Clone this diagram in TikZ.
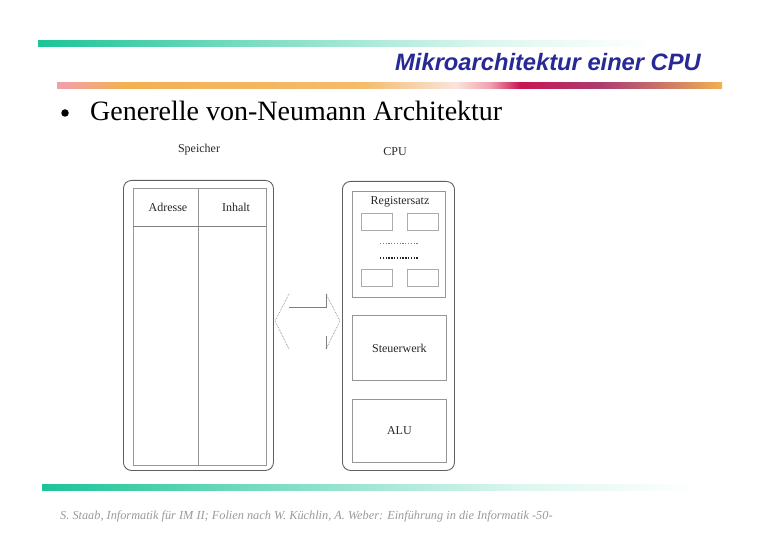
\documentclass[tikz,border=0pt]{standalone}
\usepackage{fontspec}
\setmainfont{Liberation Serif}
\newfontfamily\arialfont{Liberation Sans}
\definecolor{tealA}{RGB}{28,196,150}
\definecolor{titleblue}{RGB}{40,40,150}
\definecolor{pinkA}{RGB}{240,160,175}
\definecolor{orangeA}{RGB}{242,176,82}
\definecolor{paleA}{RGB}{250,228,220}
\definecolor{crimA}{RGB}{200,22,82}
\definecolor{purpA}{RGB}{170,60,112}
\definecolor{mauveA}{RGB}{195,105,110}
\definecolor{boxdark}{RGB}{95,95,95}
\definecolor{boxlight}{RGB}{150,150,150}
\pgfdeclarehorizontalshading{barteal}{100bp}{color(0bp)=(tealA); color(25bp)=(tealA); color(40bp)=(tealA!60); color(58bp)=(tealA!15); color(70bp)=(white); color(100bp)=(white)}
\pgfdeclarehorizontalshading{barwarm}{100bp}{color(0bp)=(pinkA); color(25bp)=(pinkA); color(30bp)=(orangeA); color(48bp)=(orangeA!85); color(55bp)=(paleA); color(57.6bp)=(pinkA); color(59.8bp)=(crimA); color(65.8bp)=(purpA); color(69.6bp)=(mauveA); color(75bp)=(orangeA); color(100bp)=(orangeA)}
\tikzset{
  outerbox/.style={draw=boxdark, line width=0.9pt, rounded corners=8pt, anchor=north west, inner sep=0pt},
  innerbox/.style={draw=boxlight, line width=0.8pt, anchor=north west, inner sep=0pt},
  lbl/.style={font=\fontsize{12}{14}\selectfont, text=black!85, inner sep=0pt},
  regbox/.style={draw=boxlight!80, line width=0.7pt, anchor=north west, inner sep=0pt, minimum width=31pt, minimum height=17pt},
  arrowdot/.style={draw=boxdark!70, line width=0.7pt, densely dotted},
  arrowsolid/.style={draw=boxdark!80, line width=0.7pt}
}
\begin{document}
\begin{tikzpicture}[x=1pt,y=-1pt]
\useasboundingbox (0,0) rectangle (780,540);
% header bars
\shade[shading=barteal] (38,41) rectangle (720,46.5);
\shade[shading=barwarm] (57,83) rectangle (722,89);
\shade[shading=barteal] (42,484) rectangle (770,490);
\node[anchor=base east, inner sep=0pt, text=titleblue, font=\arialfont\bfseries\itshape\fontsize{23.7}{27}\selectfont] (title) at (701,71) {Mikroarchitektur einer CPU};
\node[circle, fill=black, inner sep=0pt, minimum size=7.5pt] (bullet) at (65,113) {};
\node[anchor=base west, inner sep=0pt, font=\fontsize{28}{31}\selectfont] (heading) at (90,121) {Generelle von-Neumann Architektur};
% Speicher
\node[lbl] (speicherlbl) at (199,150) {Speicher};
\node[outerbox, minimum width=150pt, minimum height=290pt] (mem) at (123,180) {};
\node[innerbox, minimum width=133pt, minimum height=277pt] (memin) at (133,188) {};
\coordinate (divtop) at (198,188);
\coordinate (divbot) at (198,465);
\draw[draw=boxlight, line width=0.8pt] (divtop) -- (divbot);
\coordinate (hl) at (133,226);
\coordinate (hr) at (266,226);
\draw[draw=boxdark!80, line width=0.8pt] (hl) -- (hr);
\node[lbl] (adr) at (168,207) {Adresse};
\node[lbl] (inh) at (236,207) {Inhalt};
% CPU
\node[lbl] (cpulbl) at (395,152) {CPU};
\node[outerbox, minimum width=112pt, minimum height=289pt] (cpu) at (342,181) {};
\node[innerbox, minimum width=93pt, minimum height=106pt] (regs) at (352,191) {};
\node[lbl] (regslbl) at (400,202) {Registersatz};
\node[regbox] (r1) at (361,213) {};
\node[regbox] (r2) at (407,213) {};
\node[regbox] (r3) at (361,269) {};
\node[regbox] (r4) at (407,269) {};
\coordinate (d1a) at (380,243);
\coordinate (d1b) at (418,243);
\coordinate (d2a) at (380,258);
\coordinate (d2b) at (418,258);
\draw[draw=black!50, line width=0.9pt, dash pattern=on 1.2pt off 1.6pt] (d1a) -- (d1b);
\draw[draw=black!85, line width=1.2pt, dash pattern=on 1.4pt off 1.4pt] (d2a) -- (d2b);
\node[innerbox, minimum width=94pt, minimum height=65pt] (steuer) at (352,315) {};
\node[lbl] at (steuer.center) (steuerlbl) {Steuerwerk};
\node[innerbox, minimum width=94pt, minimum height=63pt] (alu) at (352,399) {};
\node[lbl] at (alu.center) (alulbl) {ALU};
% double arrow between memory and CPU
\coordinate (lt) at (289,294);
\coordinate (ltip) at (275,321);
\coordinate (lb) at (289,349);
\coordinate (shl) at (289,307);
\coordinate (shr) at (326,307);
\coordinate (rt) at (326,294);
\coordinate (rtip) at (340,321);
\coordinate (rb) at (326,349);
\coordinate (rbv) at (326,336);
\draw[arrowdot] (lt) -- (ltip) -- (lb);
\draw[arrowdot] (rt) -- (rtip) -- (rb);
\draw[arrowsolid] (shl) -- (shr) -- (rt);
\draw[arrowsolid] (rbv) -- (rb);
% footer
\node[anchor=base west, inner sep=0pt, text=black!40, font=\itshape\fontsize{12.3}{14}\selectfont] (footer) at (60,519) {S. Staab, Informatik für IM II; Folien nach W. Küchlin, A. Weber: Einführung in die Informatik -50-};
\end{tikzpicture}
\end{document}
